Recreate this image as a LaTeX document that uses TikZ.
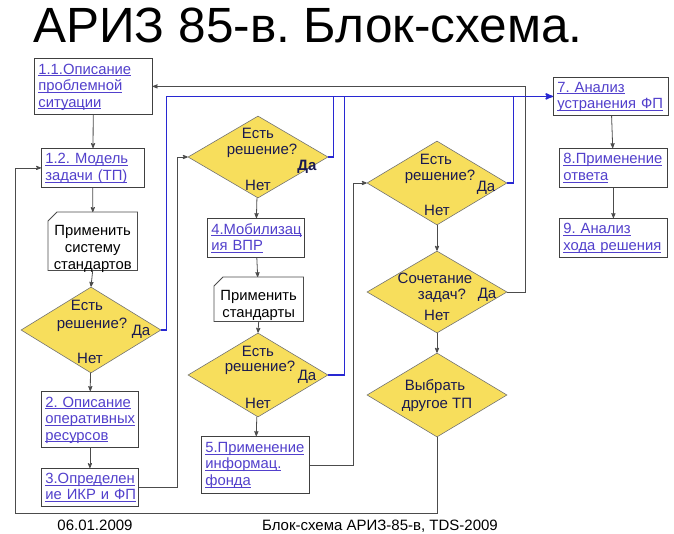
\documentclass[tikz,border=0pt]{standalone}
\usepackage{fontspec}
\setmainfont{Liberation Sans}
\usetikzlibrary{calc}
\usetikzlibrary{arrows}
\usetikzlibrary{shapes.geometric}

\definecolor{lnkcol}{RGB}{82,64,204}
\definecolor{txtcol}{RGB}{25,25,80}
\definecolor{dfill}{RGB}{247,222,92}
\definecolor{pathblue}{RGB}{40,40,210}

\newcommand{\lnk}[1]{\underline{\raisebox{0pt}[\height][0pt]{#1}}}
\frenchspacing

\tikzset{
 box/.style={draw=black!75, line width=.8pt, fill=white, anchor=north west,
   inner xsep=4pt, inner ysep=0pt, align=left, text=lnkcol,
   font=\fontsize{14.8}{16.5}\selectfont},
 stdbox/.style={anchor=north west, inner sep=0pt, minimum width=89pt},
 stdtxt/.style={inner sep=0pt, align=center, font=\fontsize{14.8}{16.8}\selectfont},
 dec/.style={diamond, draw=black!55, line width=.6pt, fill=dfill,
   minimum width=140pt, minimum height=#1, inner sep=0pt},
 dtxt/.style={text=txtcol, inner sep=0pt, font=\fontsize{15}{17}\selectfont},
 line/.style={draw=black!70, line width=.8pt},
 bline/.style={draw=pathblue, line width=1.6pt},
}

\begin{document}
\begin{tikzpicture}[x=1pt,y=-1pt,>=stealth']
\useasboundingbox (0,0) rectangle (674,533);

\node[font=\fontsize{49.5}{52}\selectfont, anchor=base] (title) at (308,42) {АРИЗ 85-в. Блок-схема.};

% boxes
\node[box, text width=110pt, minimum height=56pt] (b11) at (34,58) {\lnk{1.1.Описание}\\\lnk{проблемной}\\\lnk{ситуации}};
\node[box, text width=95pt, minimum height=39pt] (b12) at (41,148) {\lnk{1.2. Модель}\\\lnk{задачи (ТП)}};
\node[box, text width=89pt, minimum height=56pt] (b2) at (41,391) {\lnk{2. Описание}\\\lnk{оперативных}\\\lnk{ресурсов}};
\node[box, text width=89pt, minimum height=38pt] (b3) at (41,468) {\lnk{3.Определен}\\\lnk{ие ИКР и ФП}};
\node[box, text width=89pt, minimum height=39pt] (b4) at (207,218) {\lnk{4.Мобилизац}\\\lnk{ия ВПР}};
\node[box, text width=100pt, minimum height=57pt] (b5) at (201,436) {\lnk{5.Применение}\\\lnk{информац.}\\\lnk{фонда}};
\node[box, text width=107pt, minimum height=38pt] (b7) at (553,77) {\lnk{7. Анализ}\\\lnk{устранения ФП}};
\node[box, text width=100pt, minimum height=39pt] (b8) at (559,148) {\lnk{8.Применение}\\\lnk{ответа}};
\node[box, text width=100pt, minimum height=39pt] (b9) at (559,218) {\lnk{9. Анализ}\\\lnk{хода решения}};

% standards
\node[stdbox, minimum height=58pt] (std1) at (48,212) {};
\node[stdbox, minimum height=44pt] (std2) at (214,277) {};
\draw[line, fill=white] (std1.north west) ++(9,0) -- (std1.north east) -- (std1.south east) -- (std1.south west) -- ($(std1.north west)+(0,9)$) -- cycle;
\draw[line, fill=white] (std2.north west) ++(9,0) -- (std2.north east) -- (std2.south east) -- (std2.south west) -- ($(std2.north west)+(0,9)$) -- cycle;
\node[stdtxt] (std1t) at ($(std1)+(0,8)$) {Применить\\систему\\стандартов};
\node[stdtxt] (std2t) at ($(std2)+(0,6)$) {Применить\\стандарты};

% decisions
\node[dec=86pt] (dec1) at (91,330) {};
\node[dec=82pt] (dec2) at (258,157) {};
\node[dec=84pt] (dec3) at (258,375) {};
\node[dec=84pt] (dec4) at (437,183) {};
\node[dec=82pt] (dec5) at (437,292) {};
\node[dec=84pt] (dec6) at (437,395) {};

\node[dtxt] (e1) at ($(dec1)+(-4,-25)$) {Есть};
\node[dtxt] (r1) at ($(dec1)+(1,-5)$) {решение?};
\node[dtxt] (y1) at ($(dec1)+(50,2)$) {Да};
\node[dtxt] (n1) at ($(dec1)+(-1,28)$) {Нет};
\node[dtxt] (e2) at ($(dec2)+(0,-24)$) {Есть};
\node[dtxt] (r2) at ($(dec2)+(4,-6)$) {решение?};
\node[dtxt, font=\fontsize{15}{17}\selectfont\bfseries] (y2) at ($(dec2)+(49,10)$) {Да};
\node[dtxt] (n2) at ($(dec2)+(0,28)$) {Нет};
\node[dtxt] (e3) at ($(dec3)+(0,-24)$) {Есть};
\node[dtxt] (r3) at ($(dec3)+(2,-7)$) {решение?};
\node[dtxt] (y3) at ($(dec3)+(49,2)$) {Да};
\node[dtxt] (n3) at ($(dec3)+(0,28)$) {Нет};
\node[dtxt] (e4) at ($(dec4)+(-1,-24)$) {Есть};
\node[dtxt] (r4) at ($(dec4)+(3,-6)$) {решение?};
\node[dtxt] (y4) at ($(dec4)+(49,5)$) {Да};
\node[dtxt] (n4) at ($(dec4)+(0,27)$) {Нет};
\node[dtxt] (c5) at ($(dec5)+(-2,-14)$) {Сочетание};
\node[dtxt] (z5) at ($(dec5)+(5,4)$) {задач?};
\node[dtxt] (y5) at ($(dec5)+(50,3)$) {Да};
\node[dtxt] (n5) at ($(dec5)+(0,23)$) {Нет};
\node[dtxt] (v6) at ($(dec6)+(-2,-8)$) {Выбрать};
\node[dtxt] (t6) at ($(dec6)+(0,10)$) {другое ТП};

% connectors
\draw[line,->] (b11) -- (b12);
\draw[line,->] (b12) -- (std1);
\draw[line,->] (std1.south) -- (dec1.north);
\draw[line,->] (dec1) -- (b2);
\draw[line,->] (b2) -- (b3);
\draw[line,->] (b3.east) -- ++(39,0) |- (dec2.west);
\draw[line,->] (dec2) -- (b4);
\draw[line,->] (b4) -- (std2);
\draw[line,->] (std2.south) -- (dec3.north);
\draw[line,->] (dec3) -- (b5);
\draw[line,->] (b5.east) -- ++(44,0) |- (dec4.west);
\draw[line,->] (dec4) -- (dec5);
\draw[line,->] (dec5) -- (dec6);
\coordinate (lp) at (15,513);
\draw[line,->] (dec6.south) |- (lp) |- (b12.west);
\draw[line,->] (dec5.east) -- ++(18,0) |- (b11.east);
\draw[line,->] (b7) -- (b8);
\draw[line,->] (b8) -- (b9);

\draw[bline] (dec2.east) -- ++(5,0) |- (b7.west);
\draw[bline] (dec3.east) -- ++(16,0) |- (b7.west);
\draw[bline] (dec4.east) -- ++(6,0) |- (b7.west);
\draw[bline,->] (dec1.east) -- ++(5,0) |- (b7.west);

% footer
\node[font=\fontsize{15}{17}\selectfont, anchor=base] (date) at (95,530) {06.01.2009};
\node[font=\fontsize{15}{17}\selectfont, anchor=base] (foot) at (380,530) {Блок-схема АРИЗ-85-в, TDS-2009};
\end{tikzpicture}
\end{document}
